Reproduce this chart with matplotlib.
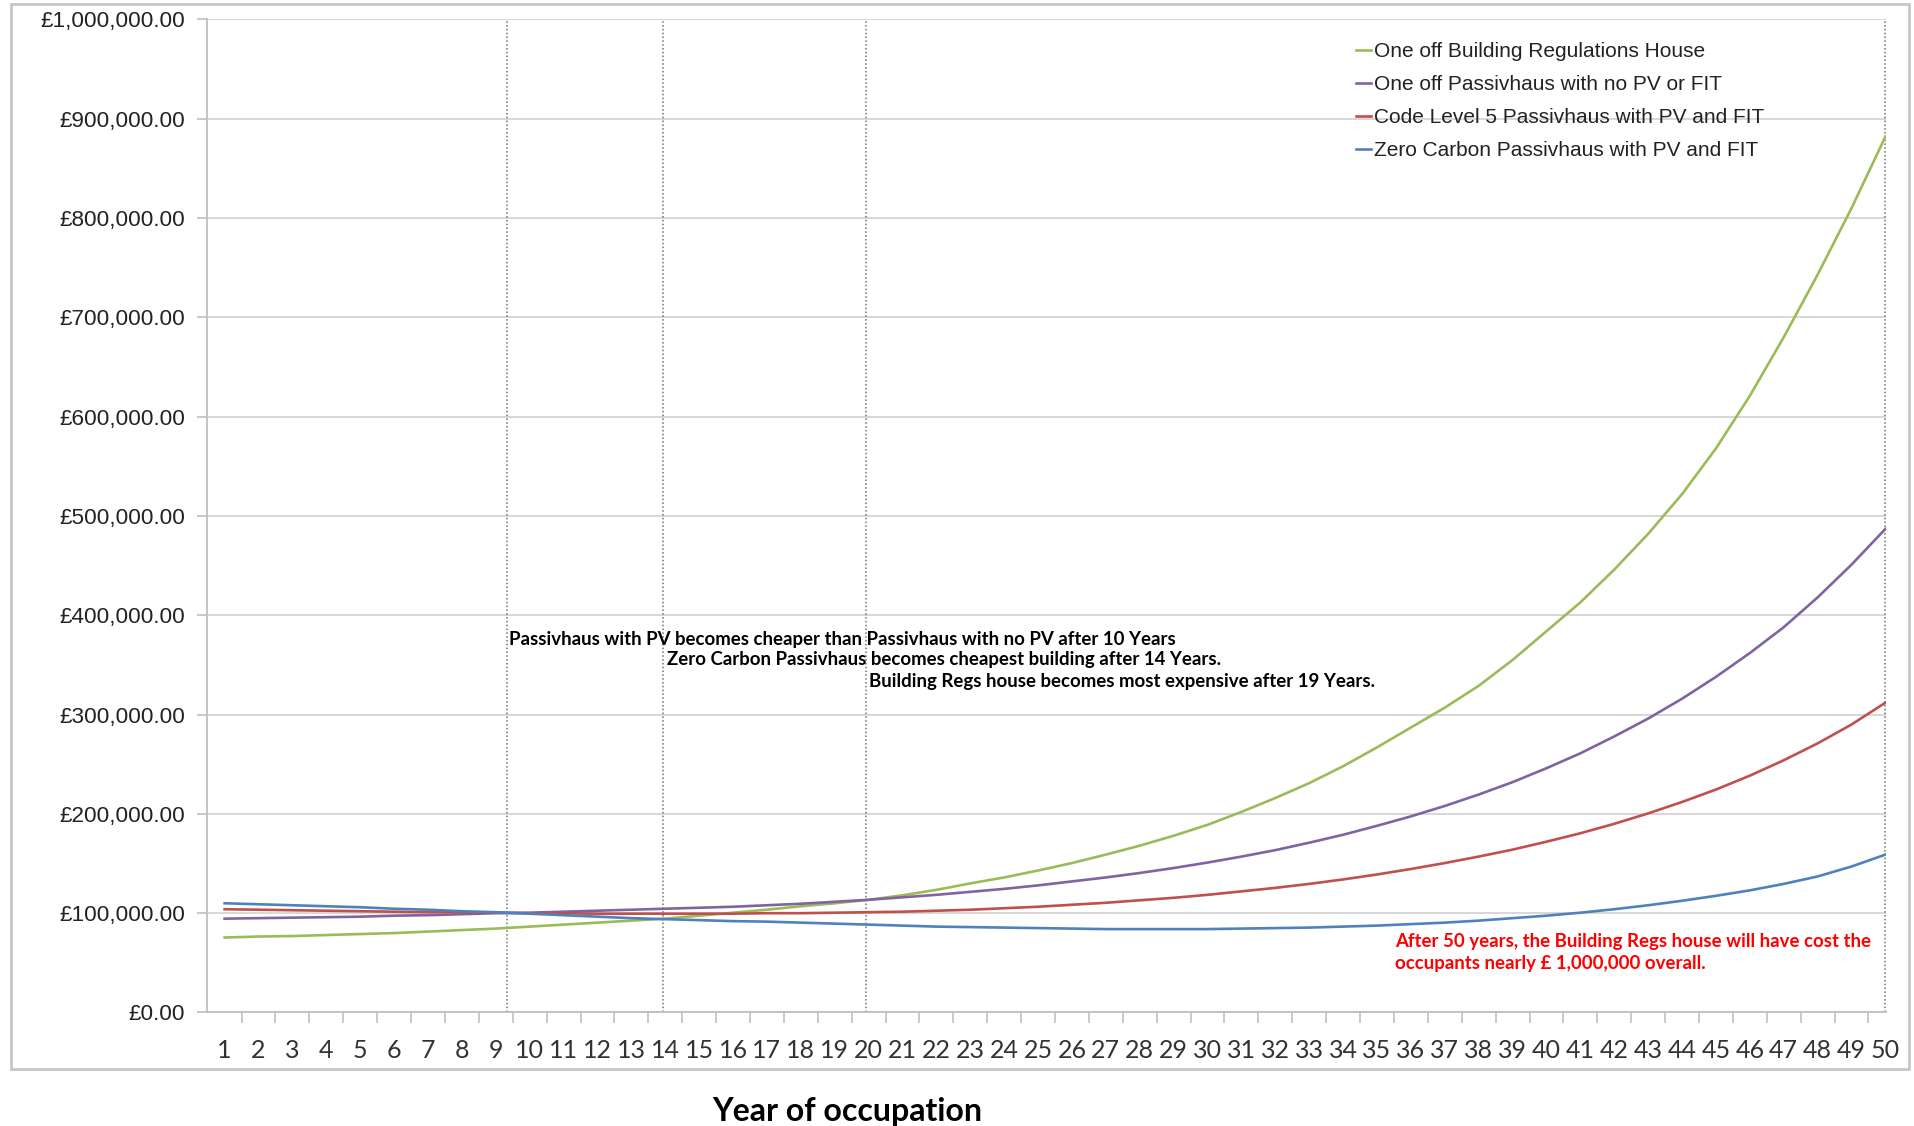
import numpy as np
import matplotlib
matplotlib.use('Agg')
import matplotlib.pyplot as plt
from matplotlib.patches import Rectangle
from matplotlib.ticker import FuncFormatter

# ## Data (values in £1000s)
years = list(range(1, 51))

building_regs = [75.5, 76.5, 77, 78, 79, 80, 81.5, 83, 84.5, 86.5,
                 88.5, 90.5, 92.5, 94.5, 97.5, 100.5, 103.5, 107, 110, 113.5,
                 118, 123.5, 130, 136, 143, 150.5, 159, 168, 178, 189,
                 202, 216, 231, 248, 267, 287, 307, 329, 355, 384,
                 413, 446, 482, 522, 568, 621, 680, 743, 810, 882]

passiv_no_pv = [94.5, 95, 95.5, 96, 96.5, 97.5, 98, 99, 100, 100.5,
                101.5, 102.5, 103.5, 104.5, 105.5, 106.5, 108, 109.5, 111.5, 113.5,
                116, 118.5, 121.5, 124.5, 128, 132, 136, 140.5, 145.5, 151,
                157, 163.5, 171, 179, 188, 197.5, 208, 219.5, 232, 246,
                261, 278, 296, 316, 338, 362, 388, 418, 451, 487]

code5_pv = [104, 103.5, 103, 102.5, 102, 101.5, 101, 101, 100.5, 100,
            100, 99.5, 99.5, 99.5, 99.5, 99.5, 100, 100, 100.5, 101,
            101.5, 102.5, 103.5, 105, 106.5, 108.5, 110.5, 113, 115.5, 118.5,
            122, 125.5, 129.5, 134, 139, 144.5, 150.5, 157, 164, 172,
            180.5, 190, 200.5, 212, 224.5, 238.5, 254, 271, 290, 312]

zero_carbon = [110, 109, 108, 107, 106, 104.5, 103.5, 102, 101, 99.5,
               98, 96.5, 95, 94, 93, 92, 91.5, 90.5, 89.5, 88.5,
               87.5, 86.5, 86, 85.5, 85, 84.5, 84, 84, 84, 84,
               84.5, 85, 85.5, 86.5, 87.5, 89, 90.5, 92.5, 95, 97.5,
               100.5, 104, 108, 112.5, 117.5, 123, 129.5, 137, 147, 159]

series_names = ['One off Building Regulations House',
                'One off Passivhaus with no PV or FIT',
                'Code Level 5 Passivhaus with PV and FIT',
                'Zero Carbon Passivhaus with PV and FIT']
series_colors = ['#9BBB59', '#8064A2', '#C0504D', '#4F81BD']

marker_years = [9.33, 13.92, 19.93, 50]

notes = ['Passivhaus with PV becomes cheaper than Passivhaus with no PV after 10 Years',
         'Zero Carbon Passivhaus becomes cheapest building after 14 Years.',
         'Building Regs house becomes most expensive after 19 Years.']
note_x = [9.4, 14.05, 20.02]
note_y = [376000, 355500, 333000]

red_note = ['After 50 years, the Building Regs house will have cost the',
            'occupants nearly \u00a3 1,000,000 overall.']
red_y = [71400, 49200]

# ## Figure
fig = plt.figure(figsize=(19.15, 11.26), dpi=100)
ax = fig.add_axes([0.1081, 0.1008, 0.9849 - 0.1081, 0.9827 - 0.1008])

fig.patches.append(Rectangle((11 / 1915, 1 - 1069 / 1126), 1898 / 1915, 1065 / 1126,
                             transform=fig.transFigure, fill=False,
                             edgecolor='#C8C8C8', linewidth=2, zorder=0))

for vals, name, col in zip([building_regs, passiv_no_pv, code5_pv, zero_carbon],
                           series_names, series_colors):
    ax.plot(years, np.array(vals) * 1000, color=col, linewidth=1.9, label=name, zorder=3)

for xv in marker_years:
    ax.axvline(xv, color='#707070', linestyle=(0, (1, 1.5)), linewidth=1.1, zorder=2)

ax.set_xlim(0.48, 50.02)
ax.set_ylim(0, 1000000)
ax.set_yticks(np.arange(0, 1000001, 100000))
ax.yaxis.set_major_formatter(FuncFormatter(lambda v, p: '\u00a3{:,.2f}'.format(v)))
ax.grid(axis='y', color='#D4D4D4', linewidth=1.3, zorder=0)

ax.set_xticks(years)
ax.set_xticks(np.arange(1.5, 50, 1), minor=True)
ax.tick_params(axis='x', which='major', length=0, pad=19, labelsize=18, labelcolor='#333333')
ax.tick_params(axis='x', which='minor', length=8, width=1.2, color='#BFBFBF', direction='out')
ax.tick_params(axis='y', length=7, width=1.2, color='#BFBFBF', pad=9, labelsize=16.2, labelcolor='#222222')
for lab in ax.get_xticklabels():
    lab.set_family('Lato')
for lab in ax.get_yticklabels():
    lab.set_family('Liberation Sans')

for s in ['top', 'right']:
    ax.spines[s].set_visible(False)
for s in ['left', 'bottom']:
    ax.spines[s].set_color('#BFBFBF')
    ax.spines[s].set_linewidth(1.3)

leg = ax.legend(loc='upper left', bbox_to_anchor=(1356 / 1915, 1 - 42 / 1126),
                bbox_transform=fig.transFigure, frameon=False, borderaxespad=0, borderpad=0,
                handlelength=0.7, handletextpad=0.15, labelspacing=0.68,
                prop={'family': 'Liberation Sans', 'size': 15})
for t in leg.get_texts():
    t.set_color('#222222')

for txt, xv, yv in zip(notes, note_x, note_y):
    ax.text(xv, yv, txt, ha='left', va='center', fontsize=13.4, fontweight='bold',
            family='Lato', color='black', zorder=4)

for txt, yv in zip(red_note, red_y):
    ax.text(35.52, yv, txt, ha='left', va='center', fontsize=13.4, fontweight='bold',
            family='Lato', color='#FF0000', zorder=4)

fig.text(847 / 1915, 1 - 1111 / 1126, 'Year of occupation', ha='center', va='center',
         fontsize=23, fontweight='bold', family='Lato')

fig.savefig('out.png', dpi=100)
